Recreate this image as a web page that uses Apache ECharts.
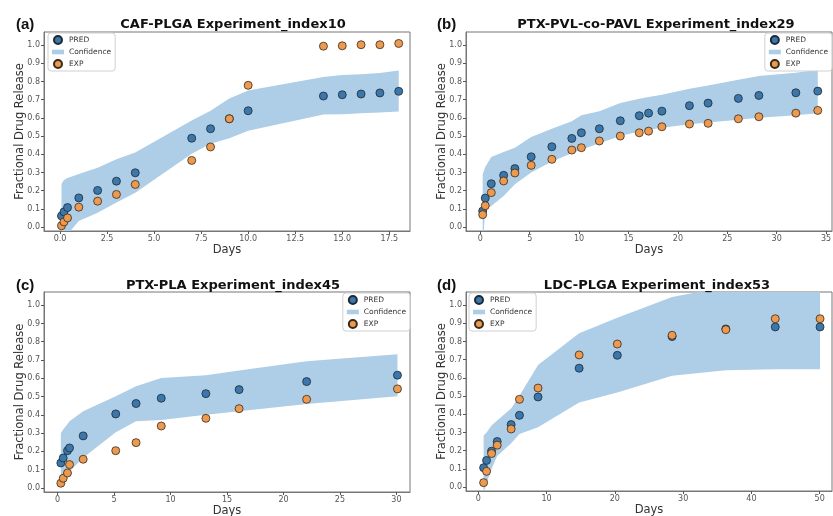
<!DOCTYPE html>
<html>
<head>
<meta charset="utf-8">
<script src="https://cdn.jsdelivr.net/npm/echarts@6/dist/echarts.min.js"></script>
<style>
html, body { margin: 0; padding: 0; background: #fff; }
#chart { width: 833px; height: 516px; }
</style>
</head>
<body>
<div id="chart"></div>
<script>
// (a) CAF-PLGA
var aDays = [0.08, 0.21, 0.4, 1, 2, 3, 4, 7, 8, 9, 10, 14, 15, 16, 17, 18];
var aPred = [0.061, 0.083, 0.107, 0.160, 0.201, 0.252, 0.298, 0.488, 0.540, 0.595, 0.639, 0.720, 0.727, 0.731, 0.737, 0.746];
var aExp = [0.007, 0.028, 0.050, 0.109, 0.142, 0.179, 0.234, 0.366, 0.440, 0.595, 0.779, 0.994, 0.996, 1.002, 1.002, 1.009];
var aLow = [-0.12, -0.08, -0.04, 0.033, 0.079, 0.134, 0.188, 0.403, 0.457, 0.488, 0.529, 0.619, 0.620, 0.625, 0.630, 0.635];
var aHigh = [0.236, 0.258, 0.270, 0.291, 0.326, 0.372, 0.409, 0.586, 0.639, 0.707, 0.750, 0.825, 0.836, 0.840, 0.847, 0.860];

// (b) PTX-PVL-co-PAVL
var bDays = [0.24, 0.5, 1.11, 2.36, 3.5, 5.15, 7.24, 9.26, 10.23, 12.05, 14.17, 16.09, 17.03, 18.38, 21.17, 23.06, 26.12, 28.2, 31.94, 34.16];
var bPred = [0.088, 0.159, 0.238, 0.284, 0.321, 0.386, 0.441, 0.487, 0.518, 0.540, 0.584, 0.612, 0.626, 0.637, 0.667, 0.681, 0.707, 0.723, 0.738, 0.747];
var bExp = [0.068, 0.117, 0.189, 0.253, 0.297, 0.339, 0.372, 0.423, 0.436, 0.473, 0.500, 0.518, 0.527, 0.551, 0.566, 0.570, 0.595, 0.606, 0.626, 0.641];
var bLow = [-0.10, 0.095, 0.115, 0.170, 0.235, 0.300, 0.360, 0.405, 0.425, 0.460, 0.500, 0.525, 0.535, 0.545, 0.565, 0.575, 0.590, 0.600, 0.615, 0.625];
var bHigh = [0.288, 0.330, 0.385, 0.412, 0.436, 0.495, 0.540, 0.582, 0.614, 0.636, 0.681, 0.705, 0.714, 0.727, 0.760, 0.778, 0.810, 0.830, 0.848, 0.864];

// (c) PTX-PLA
var cDays = [0.29, 0.5, 0.88, 1.06, 2.27, 5.15, 6.95, 9.18, 13.13, 16.07, 22.05, 30.09];
var cPred = [0.137, 0.164, 0.204, 0.219, 0.285, 0.405, 0.462, 0.491, 0.516, 0.538, 0.582, 0.617];
var cExp = [0.026, 0.053, 0.082, 0.128, 0.157, 0.204, 0.248, 0.339, 0.381, 0.434, 0.485, 0.542];
var cLow = [0.020, 0.040, 0.075, 0.090, 0.165, 0.305, 0.365, 0.372, 0.400, 0.420, 0.460, 0.502];
var cHigh = [0.301, 0.320, 0.350, 0.365, 0.420, 0.502, 0.557, 0.602, 0.617, 0.642, 0.693, 0.732];

// (d) LDC-PLGA
var dDays = [0.78, 1.21, 1.94, 2.77, 4.81, 6.03, 8.75, 14.77, 20.36, 28.38, 36.25, 43.49, 50.05];
var dPred = [0.106, 0.146, 0.197, 0.250, 0.343, 0.394, 0.495, 0.653, 0.724, 0.827, 0.869, 0.880, 0.880];
var dExp = [0.024, 0.086, 0.184, 0.230, 0.319, 0.482, 0.544, 0.726, 0.786, 0.834, 0.865, 0.925, 0.925];
var dLow = [-0.03, 0.02, 0.10, 0.17, 0.24, 0.292, 0.328, 0.465, 0.520, 0.611, 0.642, 0.648, 0.648];
var dHigh = [0.283, 0.300, 0.338, 0.365, 0.432, 0.502, 0.670, 0.845, 0.930, 1.045, 1.100, 1.120, 1.120];

var titles = ['CAF-PLGA Experiment_index10', 'PTX-PVL-co-PAVL Experiment_index29', 'PTX-PLA Experiment_index45', 'LDC-PLGA Experiment_index53'];
var letters = ['(a)', '(b)', '(c)', '(d)'];

var aTicks = [0, 2.5, 5, 7.5, 10, 12.5, 15, 17.5];
var bTicks = [0, 5, 10, 15, 20, 25, 30, 35];
var cTicks = [0, 5, 10, 15, 20, 25, 30];
var dTicks = [0, 10, 20, 30, 40, 50];
var yTicks = [0, 0.1, 0.2, 0.3, 0.4, 0.5, 0.6, 0.7, 0.8, 0.9, 1.0];

var BLUE = '#3b77ab';
var ORANGE = '#ec9a4f';
var BAND = '#aecde6';
var FONT = 'DejaVu Sans';

var panels = [
	{ days: aDays, pred: aPred, exp: aExp, low: aLow, high: aHigh, ticks: aTicks, xmin: -0.85, xmax: 18.6, dec: 1,
		grid: { left: 44, top: 32, width: 366, height: 199 }, legend: { left: 48, top: 33 }, tx: 228, ty: 13, lx: 11 },
	{ days: bDays, pred: bPred, exp: bExp, low: bLow, high: bHigh, ticks: bTicks, xmin: -1.45, xmax: 35.6, dec: 0,
		grid: { left: 466, top: 32, width: 366, height: 199 }, legend: { right: 1, top: 33 }, tx: 651, ty: 13, lx: 432 },
	{ days: cDays, pred: cPred, exp: cExp, low: cLow, high: cHigh, ticks: cTicks, xmin: -1.2, xmax: 31.2, dec: 0,
		grid: { left: 44, top: 292, width: 366, height: 200 }, legend: { right: 423, top: 293 }, tx: 228, ty: 274, lx: 11 },
	{ days: dDays, pred: dPred, exp: dExp, low: dLow, high: dHigh, ticks: dTicks, xmin: -1.8, xmax: 51.8, dec: 0,
		grid: { left: 466, top: 292, width: 366, height: 199 }, legend: { left: 469, top: 293 }, tx: 652, ty: 274, lx: 432 }
];

function pairs(xs, ys) {
	return xs.map(function(x, k) { return [x, ys[k]]; });
}

var grids = [], xAxes = [], yAxes = [], legends = [], titleList = [], series = [];

panels.forEach(function(p, i) {
	grids.push({
		left: p.grid.left, top: p.grid.top, width: p.grid.width, height: p.grid.height,
		show: true, borderColor: '#777', borderWidth: 1, backgroundColor: '#fff',
		outerBoundsMode: 'none'
	});
	xAxes.push({
		type: 'value', gridIndex: i, min: p.xmin, max: p.xmax,
		name: 'Days', nameLocation: 'middle', nameGap: 13,
		nameTextStyle: { fontFamily: FONT, fontSize: 11.5, color: '#333' },
		axisLine: { show: true, onZero: false, lineStyle: { color: '#777' } },
		axisTick: { show: true, length: 3, lineStyle: { color: '#555' }, customValues: p.ticks },
		axisLabel: {
			fontFamily: FONT, fontSize: 8, color: '#555', margin: 4, customValues: p.ticks,
			formatter: (function(dec) { return function(v) { return v.toFixed(dec); }; })(p.dec)
		},
		splitLine: { show: false }
	});
	yAxes.push({
		type: 'value', gridIndex: i, min: -0.022, max: 1.072,
		name: 'Fractional Drug Release', nameLocation: 'middle', nameGap: 18, nameMoveOverlap: false,
		nameTextStyle: { fontFamily: FONT, fontSize: 11.5, color: '#333' },
		axisLine: { show: true, onZero: false, lineStyle: { color: '#777' } },
		axisTick: { show: true, length: 3, lineStyle: { color: '#555' }, customValues: yTicks },
		axisLabel: {
			fontFamily: FONT, fontSize: 8, color: '#555', margin: 4, customValues: yTicks,
			formatter: function(v) { return v.toFixed(1); }
		},
		splitLine: { show: false }
	});
	var lg = {
		top: p.legend.top, orient: 'vertical',
		itemWidth: 12, itemHeight: 8, itemGap: 3,
		padding: [2, 4, 2, 4],
		backgroundColor: 'rgba(255,255,255,0.85)', borderColor: '#d0d0d0', borderWidth: 1, borderRadius: 3,
		textStyle: { fontFamily: FONT, fontSize: 7.5, color: '#333' },
		selectedMode: false,
		data: [
			{ name: 'PRED', icon: 'circle' },
			{ name: 'Confidence', icon: 'path://M0,0 L13,0 L13,5 L0,5 Z', itemStyle: { color: BAND, borderWidth: 0 } },
			{ name: 'EXP', icon: 'circle' }
		]
	};
	if (p.legend.left != null) lg.left = p.legend.left; else lg.right = p.legend.right;
	legends.push(lg);
	titleList.push({
		text: titles[i], left: p.tx, top: p.ty, textAlign: 'center',
		textStyle: { fontFamily: FONT, fontSize: 13, fontWeight: 'bold', color: '#111' }
	});
	titleList.push({
		text: letters[i], left: p.lx, top: p.ty - 1,
		textStyle: { fontFamily: 'Liberation Sans', fontSize: 15, fontWeight: 'bold', color: '#111' }
	});

	var days = p.days, low = p.low, high = p.high;
	series.push({
		type: 'custom', name: 'Confidence', xAxisIndex: i, yAxisIndex: i, clip: true, silent: true,
		itemStyle: { color: BAND },
		data: days.map(function(d, k) { return [d, low[k], high[k]]; }),
		encode: { x: 0, y: [1, 2] },
		renderItem: function(params, api) {
			if (params.dataIndex !== 0) return;
			var up = days.map(function(d, k) { return api.coord([d, high[k]]); });
			var dn = days.map(function(d, k) { return api.coord([d, low[k]]); }).reverse();
			return { type: 'polygon', shape: { points: up.concat(dn) }, style: { fill: BAND } };
		},
		z: 1
	});
	series.push({
		type: 'scatter', name: 'PRED', xAxisIndex: i, yAxisIndex: i,
		data: pairs(days, p.pred), symbolSize: 8,
		itemStyle: { color: BLUE, borderColor: '#1d2935', borderWidth: 0.8, opacity: 1 },
		z: 3
	});
	series.push({
		type: 'scatter', name: 'EXP', xAxisIndex: i, yAxisIndex: i,
		data: pairs(days, p.exp), symbolSize: 8,
		itemStyle: { color: ORANGE, borderColor: '#3a2a1a', borderWidth: 0.8, opacity: 1 },
		z: 4
	});
});

var chart = echarts.init(document.getElementById('chart'), null, { renderer: 'canvas' });
chart.setOption({
	animation: false,
	backgroundColor: '#fff',
	title: titleList,
	grid: grids,
	xAxis: xAxes,
	yAxis: yAxes,
	legend: legends,
	series: series
});
</script>
</body>
</html>
